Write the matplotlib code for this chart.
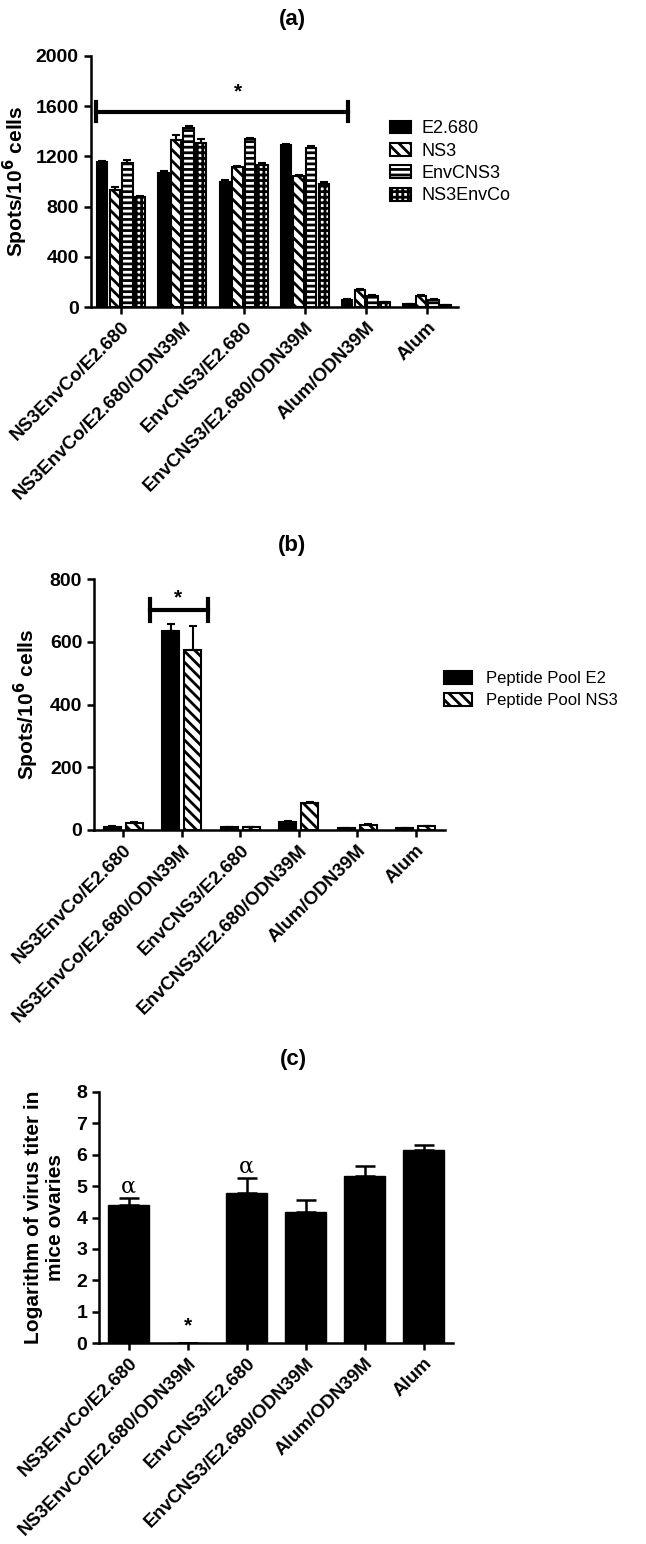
import numpy as np
import matplotlib
matplotlib.use("Agg")
import matplotlib.pyplot as plt

plt.rcParams['font.family'] = ['Liberation Sans', 'DejaVu Sans']
plt.rcParams['hatch.linewidth'] = 2.0

groups = ["NS3EnvCo/E2.680", "NS3EnvCo/E2.680/ODN39M", "EnvCNS3/E2.680",
          "EnvCNS3/E2.680/ODN39M", "Alum/ODN39M", "Alum"]

# (a) ELISPOT, four antigens
a_names = ["E2.680", "NS3", "EnvCNS3", "NS3EnvCo"]
a_e2 = [1155, 1070, 1000, 1290, 53, 20]
a_ns3 = [935, 1330, 1113, 1041, 133, 85]
a_env = [1147, 1424, 1340, 1270, 85, 55]
a_co = [874, 1307, 1134, 977, 37, 15]
a_e2_err = [10, 15, 10, 12, 8, 5]
a_ns3_err = [20, 40, 10, 10, 8, 8]
a_env_err = [25, 15, 10, 10, 10, 6]
a_co_err = [10, 30, 12, 20, 5, 4]

# (b) peptide pools
b_names = ["Peptide Pool E2", "Peptide Pool NS3"]
b_e2 = [10, 634, 9, 27, 6, 5]
b_ns3 = [21, 574, 8, 85, 16, 12]
b_e2_err = [2, 22, 2, 3, 1, 1]
b_ns3_err = [4, 76, 2, 5, 2, 2]

# (c) virus titer
c_vals = [4.41, 0.0, 4.79, 4.19, 5.32, 6.15]
c_err = [0.21, 0.0, 0.47, 0.36, 0.31, 0.16]

W, H = 646, 1544
fig = plt.figure(figsize=(W / 100, H / 100), dpi=100)


def make_ax(l, r, b, t):
    ax = fig.add_axes([l / W, 1 - b / H, (r - l) / W, (b - t) / H])
    for s in ["top", "right"]:
        ax.spines[s].set_visible(False)
    for s in ["left", "bottom"]:
        ax.spines[s].set_linewidth(1.8)
    ax.tick_params(width=1.8, length=5, labelsize=14)
    return ax


def xlabels(ax):
    x = np.arange(len(groups))
    ax.set_xticks(x)
    ax.set_xticklabels(groups, rotation=45, ha="right", rotation_mode="anchor",
                       fontweight="bold", fontsize=13.5)
    ax.set_xlim(-0.5, len(groups) - 0.5)
    for lab in ax.get_yticklabels():
        lab.set_fontweight("bold")


x = np.arange(len(groups))
ekw = dict(ecolor="black", elinewidth=1.5, capsize=3, capthick=1.5)

# ---------- (a)
ax1 = make_ax(90.5, 458, 307, 56)
series = [(a_e2, a_e2_err, ""), (a_ns3, a_ns3_err, "\\\\\\"),
          (a_env, a_env_err, "---"), (a_co, a_co_err, "+++")]
step = 0.205
bw = 0.17
for i, (vals, err, hat) in enumerate(series):
    pos = x + (i - 1.5) * step
    fc = "black" if hat == "" else "white"
    ax1.bar(pos, vals, bw, color=fc, edgecolor="black", hatch=hat, linewidth=1.5,
            yerr=[np.zeros(len(err)), err], error_kw=ekw, label=a_names[i])
ax1.set_ylim(0, 2000)
ax1.set_yticks([0, 400, 800, 1200, 1600, 2000])
ax1.set_ylabel("Spots/10$^{\\mathbf{6}}$ cells", fontweight="bold", fontsize=15, labelpad=4)
xlabels(ax1)
ax1.plot([-0.41, 3.7], [1550, 1550], color="black", lw=3, clip_on=False)
ax1.plot([-0.41, -0.41], [1480, 1630], color="black", lw=3, clip_on=False)
ax1.plot([3.7, 3.7], [1480, 1630], color="black", lw=3, clip_on=False)
ax1.text(1.9, 1640, "*", ha="center", va="bottom", fontsize=15, fontweight="bold")
ax1.legend(loc="upper left", bbox_to_anchor=(374 / W, 1 - 104 / H), bbox_transform=fig.transFigure,
           frameon=False, fontsize=13, handlelength=1.15, handleheight=0.7, labelspacing=0.3,
           handletextpad=0.6)
fig.text(292 / W, 1 - 20 / H, "(a)", ha="center", va="center", fontsize=16, fontweight="bold")

# ---------- (b)
ax2 = make_ax(94, 445, 830, 579)
step2 = 0.37
bw2 = 0.29
for i, (vals, err, hat) in enumerate([(b_e2, b_e2_err, ""), (b_ns3, b_ns3_err, "\\\\\\")]):
    pos = x + (i - 0.5) * step2
    fc = "black" if hat == "" else "white"
    ax2.bar(pos, vals, bw2, color=fc, edgecolor="black", hatch=hat, linewidth=1.5,
            yerr=[np.zeros(len(err)), err], error_kw=ekw, label=b_names[i])
ax2.set_ylim(0, 800)
ax2.set_yticks([0, 200, 400, 600, 800])
ax2.set_ylabel("Spots/10$^{\\mathbf{6}}$ cells", fontweight="bold", fontsize=15, labelpad=6)
xlabels(ax2)
ax2.plot([0.46, 1.45], [700, 700], color="black", lw=3, clip_on=False)
ax2.plot([0.46, 0.46], [665, 737], color="black", lw=3, clip_on=False)
ax2.plot([1.45, 1.45], [665, 737], color="black", lw=3, clip_on=False)
ax2.text(0.93, 708, "*", ha="center", va="bottom", fontsize=15, fontweight="bold")
ax2.legend(loc="upper left", bbox_to_anchor=(429 / W, 1 - 656 / H), bbox_transform=fig.transFigure,
           frameon=False, fontsize=12, handlelength=1.7, handleheight=0.8, labelspacing=0.4)
fig.text(292 / W, 1 - 546 / H, "(b)", ha="center", va="center", fontsize=16, fontweight="bold")

# ---------- (c)
ax3 = make_ax(99, 453, 1343, 1092)
ax3.bar(x, c_vals, 0.7, color="black", edgecolor="black",
        yerr=[np.zeros(len(c_err)), c_err], error_kw=dict(ecolor="black", elinewidth=1.8, capsize=7, capthick=1.8))
ax3.set_ylim(0, 8)
ax3.set_yticks(range(0, 9))
ax3.set_ylabel("Logarithm of virus titer in\nmice ovaries", fontweight="bold", fontsize=15, labelpad=8)
xlabels(ax3)
for i in [0, 2]:
    ax3.text(x[i], c_vals[i] + c_err[i] + 0.02, "α", ha="center", va="bottom", fontsize=16,
             family=["DejaVu Serif"])
ax3.text(x[1], 0.25, "*", ha="center", va="bottom", fontsize=15, fontweight="bold")
fig.text(293 / W, 1 - 1060 / H, "(c)", ha="center", va="center", fontsize=16, fontweight="bold")

fig.savefig("out.png", dpi=100)
